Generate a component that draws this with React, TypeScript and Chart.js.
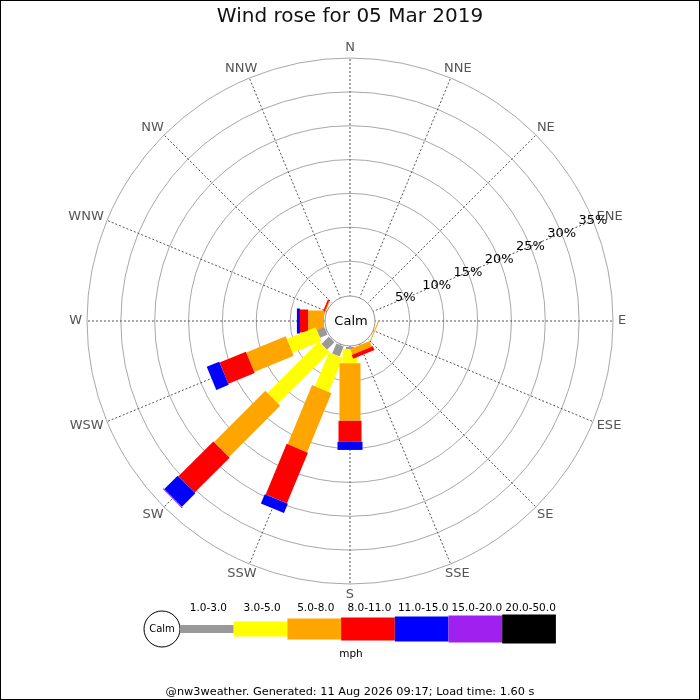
import { useEffect, useRef } from "react"
import { Chart, registerables } from "chart.js"

Chart.register(...registerables)
Chart.defaults.font.family = "'DejaVu Sans', sans-serif"

const FONT = "'DejaVu Sans', sans-serif"

// compass points, clockwise from north
const directions = ["N", "NNE", "NE", "ENE", "E", "ESE", "SE", "SSE", "S", "SSW", "SW", "WSW", "W", "WNW", "NW", "NNW"]

// speed ranges (mph) and how each is drawn
const speedRanges = ["1.0-3.0", "3.0-5.0", "5.0-8.0", "8.0-11.0", "11.0-15.0", "15.0-20.0", "20.0-50.0"]
const rangeColors = ["#999999", "#ffff00", "#ffa500", "#ff0000", "#0000ff", "#a020f0", "#000000"]
const legWidths = [8, 15, 21, 23, 25, 27, 29]

// % of the day per direction (N .. NNW), one list per speed range
const pct1to3 = [0, 0, 0, 0, 0, 0, 0, 0, 0.3, 1.6, 1.55, 1.2, 0, 0, 0, 0]
const pct3to5 = [0, 0, 0, 0, 0, 0, 0, 0, 2.1, 5.45, 10.75, 4.6, 0, 0, 0, 0]
const pct5to8 = [0, 0, 0, 0, 0, 0.15, 0, 0.9, 8.5, 9.45, 10.7, 6.3, 2.35, 0.15, 0, 0]
const pct8to11 = [0, 0, 0, 0, 0, 0, 0, 0.6, 3.1, 8.1, 7.3, 4.2, 1.2, 0.25, 0, 0]
const pct11to15 = [0, 0, 0, 0, 0, 0, 0, 0, 1.2, 1.5, 2.8, 2.0, 0.45, 0, 0, 0]
const pct15to20 = [0, 0, 0, 0, 0, 0, 0, 0, 0, 0, 0.15, 0, 0, 0, 0, 0]
const pct20to50 = [0, 0, 0, 0, 0, 0, 0, 0, 0, 0, 0, 0, 0, 0, 0, 0]
const rangeSeries = [pct1to3, pct3to5, pct5to8, pct8to11, pct11to15, pct15to20, pct20to50]

// radial axis (%), the negative min leaves room for the calm disc
const ringTicks = [0, 5, 10, 15, 20, 25, 30, 35]
const scaleMin = -3.84
const scaleMax = 35
const labelDirection = 3 // ring labels run along ENE

const titleText = "Wind rose for 05 Mar 2019"
const footerText = "@nw3weather. Generated: 11 Aug 2026 09:17; Load time: 1.60 s"

// running totals, so each dataset point sits at the outer end of its leg
const cumulative = rangeSeries.map((_, i) =>
  directions.map((_, j) => rangeSeries.slice(0, i + 1).reduce((sum, s) => sum + s[j], 0))
)

const windRosePlugin = {
  id: "windRose",
  beforeDraw(chart: any) {
    const { ctx, width, height } = chart
    ctx.save()
    ctx.fillStyle = "#fff"
    ctx.fillRect(0, 0, width, height)
    ctx.restore()
  },
  afterDatasetsDraw(chart: any) {
    const ctx = chart.ctx
    const scale = chart.scales.r
    ctx.save()
    // same order as the original: start at E and go anti-clockwise
    for (let k = 0; k < directions.length; k++) {
      const j = (4 - k + directions.length) % directions.length
      const base = scale.getPointPositionForValue(j, 0)
      const tip = scale.getPointPositionForValue(j, scaleMax)
      const len = Math.hypot(tip.x - base.x, tip.y - base.y)
      const nx = -(tip.y - base.y) / len
      const ny = (tip.x - base.x) / len
      let from = { x: base.x, y: base.y }
      rangeSeries.forEach((series, i) => {
        const pt = chart.getDatasetMeta(i).data[j]
        if (series[j] > 0) {
          const h = legWidths[i] / 2
          ctx.beginPath()
          ctx.moveTo(from.x + nx * h, from.y + ny * h)
          ctx.lineTo(pt.x + nx * h, pt.y + ny * h)
          ctx.lineTo(pt.x - nx * h, pt.y - ny * h)
          ctx.lineTo(from.x - nx * h, from.y - ny * h)
          ctx.closePath()
          ctx.fillStyle = rangeColors[i]
          ctx.fill()
        }
        from = { x: pt.x, y: pt.y }
      })
    }
    ctx.restore()
  },
  afterDraw(chart: any) {
    const ctx = chart.ctx
    const scale = chart.scales.r
    const cx = scale.xCenter
    const cy = scale.yCenter
    ctx.save()

    // calm disc in the middle
    ctx.beginPath()
    ctx.arc(cx, cy, scale.getDistanceFromCenterForValue(0) - 1, 0, Math.PI * 2)
    ctx.fillStyle = "#fff"
    ctx.fill()
    ctx.strokeStyle = "#999"
    ctx.lineWidth = 1
    ctx.stroke()
    ctx.textAlign = "center"
    ctx.textBaseline = "middle"
    ctx.fillStyle = "#000"
    ctx.font = `13px ${FONT}`
    ctx.fillText("Calm", cx + 1, cy + 1)

    // compass labels, pushed out from an anchor just beyond the outer ring
    ctx.font = `13px ${FONT}`
    ctx.fillStyle = "#555"
    directions.forEach((label, j) => {
      const w = ctx.measureText(label).width
      const p = scale.getPointPosition(j, scale.drawingArea + 5)
      const ux = (p.x - cx) / (scale.drawingArea + 5)
      const uy = (p.y - cy) / (scale.drawingArea + 5)
      ctx.fillText(label, p.x + ux * w / 2, p.y + uy * 5.5)
    })

    // ring labels
    ctx.fillStyle = "#000"
    ringTicks.filter((v) => v > 0).forEach((v) => {
      const p = scale.getPointPosition(labelDirection, scale.getDistanceFromCenterForValue(v))
      ctx.fillText(`${v}%`, p.x, p.y)
    })

    // speed legend
    const legLeft = 180
    const legMid = 629
    const legSeg = 53.7
    ctx.beginPath()
    ctx.arc(legLeft - 18, legMid, 18, 0, Math.PI * 2)
    ctx.fillStyle = "#fff"
    ctx.fill()
    ctx.strokeStyle = "#000"
    ctx.stroke()
    ctx.fillStyle = "#000"
    ctx.font = `10px ${FONT}`
    ctx.fillText("Calm", legLeft - 18, legMid)
    speedRanges.forEach((label, i) => {
      const x = legLeft + i * legSeg
      ctx.fillStyle = rangeColors[i]
      ctx.fillRect(x, legMid - legWidths[i] / 2, legSeg, legWidths[i])
      ctx.fillStyle = "#000"
      ctx.font = `10.5px ${FONT}`
      ctx.fillText(label, x + legSeg / 2 + 1.5, 608.5)
    })
    ctx.font = `10.5px ${FONT}`
    ctx.fillText("mph", cx + 1, 654)

    // frame
    ctx.strokeStyle = "#000"
    ctx.lineWidth = 1
    ctx.strokeRect(0.5, 0.5, chart.width - 1, chart.height - 1)
    ctx.restore()
  },
}

export default function App() {
  const canvasRef = useRef<HTMLCanvasElement>(null)

  useEffect(() => {
    if (!canvasRef.current) return
    const chart = new Chart(canvasRef.current, {
      type: "radar",
      data: {
        labels: directions,
        datasets: speedRanges.map((label, i) => ({
          label,
          data: cumulative[i],
          backgroundColor: rangeColors[i],
          borderColor: rangeColors[i],
          showLine: false,
          fill: false,
          pointRadius: 0,
          pointHoverRadius: 0,
        })),
      },
      options: {
        responsive: false,
        devicePixelRatio: 1,
        animation: false,
        events: [],
        layout: { padding: 0 },
        plugins: {
          legend: { display: false },
          tooltip: { enabled: false },
          title: {
            display: true,
            text: titleText,
            color: "#111",
            font: { size: 20, weight: "normal" },
            padding: { top: 5, bottom: 29 },
          },
          subtitle: {
            display: true,
            position: "bottom",
            text: footerText,
            color: "#000",
            font: { size: 11.3, weight: "normal" },
            padding: { top: 101, bottom: 1.4 },
          },
        },
        scales: {
          r: {
            min: scaleMin,
            max: scaleMax,
            startAngle: 0,
            afterBuildTicks: (scale: any) => {
              scale.ticks = ringTicks.map((value) => ({ value }))
            },
            ticks: { display: false },
            grid: {
              circular: true,
              lineWidth: 1,
              color: (c: any) => (c.tick && c.tick.value === 0 ? "rgba(0,0,0,0)" : "#a8a8a8"),
            },
            angleLines: { display: true, color: "#555", lineWidth: 1, borderDash: [2, 2] },
            pointLabels: { display: false },
          },
        },
      } as any,
      plugins: [windRosePlugin],
    })

    return () => {
      chart.destroy()
    }
  }, [])

  return (
    <div style={{ position: "absolute", left: 0, top: 0, width: 700, height: 700, background: "#fff" }}>
      <canvas ref={canvasRef} width={700} height={700} style={{ display: "block" }} />
    </div>
  )
}
